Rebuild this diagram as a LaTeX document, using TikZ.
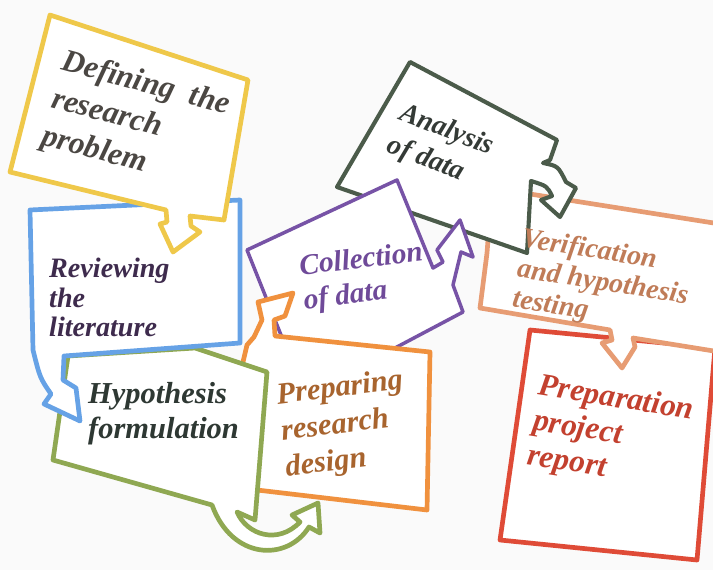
\documentclass[tikz,border=0pt]{standalone}
\usepackage{fontspec}
\setmainfont{Liberation Serif}
\definecolor{yellowline}{HTML}{EFC84A}
\definecolor{blueline}{HTML}{66A2E6}
\definecolor{greenline}{HTML}{8FA852}
\definecolor{orangeline}{HTML}{F0913E}
\definecolor{purpleline}{HTML}{7753A6}
\definecolor{darkline}{HTML}{4B5B4A}
\definecolor{salmonline}{HTML}{E79C73}
\definecolor{redline}{HTML}{DF4B37}
\definecolor{definetext}{HTML}{4B4743}
\definecolor{reviewtext}{HTML}{3E2B4D}
\definecolor{hypotext}{HTML}{2E3833}
\definecolor{designtext}{HTML}{A8642E}
\definecolor{collecttext}{HTML}{6F4A99}
\definecolor{analysetext}{HTML}{343A36}
\definecolor{verifytext}{HTML}{C07C58}
\definecolor{reporttext}{HTML}{C3412F}
\begin{document}
\begin{tikzpicture}[x=0.03cm,y=-0.03cm,line join=round,
  bubble/.style={line width=4pt,fill=white},
  bubbletext/.style 2 args={font=\bfseries\itshape\fontsize{#1}{#2}\selectfont,
    align=left,anchor=north west,inner sep=0pt}]
  \useasboundingbox[fill=black!2] (0,0) rectangle (713,570);
  \clip (0,0) rectangle (713,570);

  \draw[bubble,draw=redline] (530,330) -- (715,348) -- (697,560)
    -- (500,540) -- cycle;
  \draw[bubble,draw=salmonline] (492,188) -- (720,224) -- (720,352)
    -- (633,338) -- (635,347) -- (622,368) -- (602,343) -- (612,340)
    -- (610,330) -- (480,308) -- (487,253) -- cycle;
  \draw[bubble,draw=darkline,line width=3.5pt] (410,62) -- (557,140)
    -- (550,160) -- (543,163) .. controls (558,166) .. (566,182)
    -- (576,188) -- (560,217) -- (541,200) -- (552,196)
    .. controls (547,186) .. (531,181) -- (527,253) -- (337,187) -- cycle;
  \draw[bubble,draw=purpleline,line width=3pt] (247,250) -- (397,180)
    -- (433,268) -- (443,262) -- (437,250) -- (460,220) -- (473,257)
    -- (461,252) -- (453,285) -- (463,312) -- (395,348) -- (285,345) -- cycle;
  \draw[bubble,draw=orangeline] (257,490) -- (243,362) -- (247,345)
    -- (254,337) -- (262,320) -- (258,302) -- (293,293) -- (285,316)
    -- (274,320) -- (275,336) -- (430,352) -- (427,510) -- cycle;
  \draw[bubble,draw=greenline] (68,356) -- (195,348) -- (267,372)
    -- (255,520) -- (237,512) .. controls (247,535) and (278,545) .. (300,522)
    -- (292,515) -- (318,503) -- (320,533) -- (309,527)
    .. controls (287,562) and (232,560) .. (212,505) -- (53,460) -- cycle;
  \draw[bubble,draw=blueline] (30,210) -- (240,200) -- (240,343)
    -- (64,356) -- (63,380) -- (76,388) -- (80,421) -- (44,404)
    -- (51,394) .. controls (40,378) .. (33,350) -- cycle;
  \draw[bubble,draw=yellowline] (50,15) -- (248,80) -- (224,220)
    -- (190,216) -- (191,226) -- (200,232) -- (173,252) -- (160,224)
    -- (167,222) -- (166,210) -- (10,172) -- cycle;

  \node[bubbletext={27}{33},text=definetext,rotate=-15] (define) at (66,48)
    {Defining\ \ the\\research\\problem};
  \node[bubbletext={24}{25},text=reviewtext] (review) at (49,258)
    {Reviewing\\the\\literature};
  \node[bubbletext={26}{30},text=hypotext] (hypo) at (88,382)
    {Hypothesis\\formulation};
  \node[bubbletext={26}{31},text=designtext,rotate=7] (design) at (275,383)
    {Preparing\\research\\design};
  \node[bubbletext={25}{29},text=collecttext,rotate=7] (collect) at (298,255)
    {Collection\\of data};
  \node[bubbletext={24}{29},text=analysetext,rotate=-21] (analyse) at (405,101)
    {Analysis\\of data};
  \node[bubbletext={24}{26},text=verifytext,rotate=-9] (verify) at (524,227)
    {Verification\\and hypothesis\\testing};
  \node[bubbletext={27}{30},text=reporttext,rotate=-9] (report) at (541,373)
    {Preparation\\project\\report};
\end{tikzpicture}
\end{document}
